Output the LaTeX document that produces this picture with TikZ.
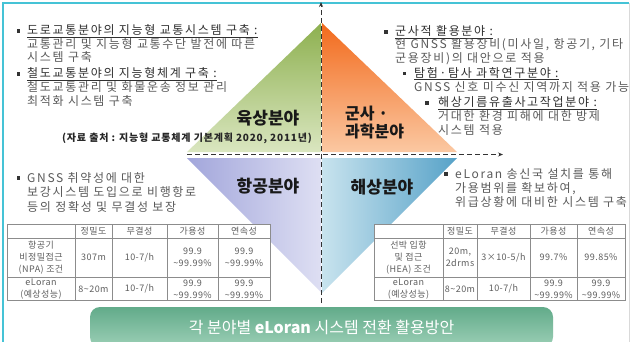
\documentclass[tikz,border=0pt]{standalone}
\usepackage{fontspec}
\setmainfont{Noto Sans CJK KR}
\newfontfamily\spacedf[LetterSpace=14]{Noto Sans CJK KR}
\newfontfamily\srcf[LetterSpace=8]{Noto Sans CJK KR}
\newfontfamily\tablef[LetterSpace=5]{Noto Sans CJK KR}
\usetikzlibrary{arrows.meta}
\definecolor{frameC}{HTML}{45C3D6}
\definecolor{grTop}{HTML}{8DB04F}
\definecolor{grBot}{HTML}{DAE6C0}
\definecolor{orTop}{HTML}{F26A1C}
\definecolor{orBot}{HTML}{FBC8A2}
\definecolor{puL}{HTML}{A2A6DB}
\definecolor{puR}{HTML}{DEDFF3}
\definecolor{blL}{HTML}{C8E3EE}
\definecolor{blR}{HTML}{57A2C8}
\definecolor{bnTop}{HTML}{62AB8A}
\definecolor{bnBot}{HTML}{9CCFB6}
\definecolor{txtC}{HTML}{5A5A5A}
\definecolor{headC}{HTML}{303030}
\definecolor{tblC}{HTML}{5E5E5E}
\definecolor{tline}{HTML}{8C8C8C}
\begin{document}
\begin{tikzpicture}[x=1pt,y=-1pt,
  body/.style={anchor=base west, inner sep=0pt, text=txtC, font=\spacedf\fontsize{12}{14}\selectfont},
  headl/.style={body, text=headC},
  bul/.style={rectangle, fill=black!80, minimum size=3.6pt, inner sep=0pt},
  big/.style={inner sep=0pt, text=black!90, font=\bfseries\fontsize{17}{19}\selectfont},
  tcell/.style={inner sep=0pt, text=tblC, align=center, font=\tablef\fontsize{9}{12}\selectfont},
  axis/.style={draw=black!80, line width=0.8pt, dash pattern=on 5pt off 3pt, -{Stealth[length=5pt,width=4pt]}},
  tgrid/.style={draw=tline, line width=0.6pt},
  banner/.style={rounded corners=10pt, top color=bnTop, bottom color=bnBot, draw=none,
     minimum width=463pt, minimum height=40pt, text=white, font=\fontsize{16}{18}\selectfont}
]
\useasboundingbox (0,0) rectangle (631,341);
\fill[white] (0,0) rectangle (631,341);
% frame
\draw[frameC, line width=1.3pt] (3,345) -- (3,3) -- (629,3);
\draw[black!15, line width=0.6pt] (629,3) -- (629,345);

% triangles
\shade[top color=grTop, bottom color=grBot] (321,23) -- (187,152) -- (321,152) -- cycle;
\shade[top color=orTop, bottom color=orBot] (322,23) -- (322,152) -- (457,152) -- cycle;
\shade[left color=puL, right color=puR] (187,158) -- (321,158) -- (321,292) -- cycle;
\shade[left color=blL, right color=blR] (322,158) -- (457,158) -- (322,293) -- cycle;

% axes
\coordinate (vbot) at (321,303);
\coordinate (vtop) at (321,2);
\coordinate (hl) at (187,154.5);
\coordinate (hr) at (503,154.5);
\draw[axis] (vbot) -- (vtop);
\draw[axis] (hl) -- (hr);

% big labels
\node[big] (yuk) at (268,118) {육상분야};
\node[big, anchor=west, font=\bfseries\fontsize{16}{18}\selectfont] (gun) at (345,114) {군사 ·};
\node[big, anchor=west, font=\bfseries\fontsize{16}{18}\selectfont] (gwa) at (345,131) {과학분야};
\node[big] (hang) at (268,186) {항공분야};
\node[big] (hae) at (382,187) {해상분야};
\node[inner sep=0pt, anchor=base east, text=black!85, font=\srcf\bfseries\fontsize{10}{12}\selectfont] (src) at (312,141.5) {(자료 출처 : 지능형 교통체계 기본계획 2020, 2011년)};

% top-left text
\node[bul] (b1) at (18.5,31) {};
\node[headl] (t1) at (27,34.5) {\underline{도로교통분야의 지능형 교통시스템 구축 :}};
\node[body] (t2) at (27,48) {교통관리 및 지능형 교통수단 발전에 따른};
\node[body] (t3) at (27,61.5) {시스템 구축};
\node[bul] (b2) at (18.5,74) {};
\node[headl] (t4) at (27,77.5) {\underline{철도교통분야의 지능형체계 구축 :}};
\node[body] (t5) at (27,91.5) {철도교통관리 및 화물운송 정보 관리};
\node[body] (t6) at (27,105.5) {최적화 시스템 구축};

% top-right text
\node[bul] (b3) at (386,32) {};
\node[headl] (r1) at (395,35.5) {\underline{군사적 활용분야 :}};
\node[body] (r2) at (395,48.5) {현 GNSS 활용장비(미사일, 항공기, 기타};
\node[body] (r3) at (395,62.5) {군용장비)의 대안으로 적용};
\node[bul] (b4) at (404.5,73.5) {};
\node[headl] (r4) at (414,77) {\underline{탐험·탐사 과학연구분야 :}};
\node[body] (r5) at (414,91.5) {GNSS 신호 미수신 지역까지 적용 가능};
\node[bul] (b5) at (427,103) {};
\node[headl] (r6) at (438,106.5) {\underline{해상기름유출사고작업분야 :}};
\node[body] (r7) at (438,120.5) {거대한 환경 피해에 대한 방제};
\node[body] (r8) at (438,134.5) {시스템 적용};

% middle-left text
\node[bul] (b6) at (18.5,178) {};
\node[body] (m1) at (27,182) {GNSS 취약성에 대한};
\node[body] (m2) at (27,196.5) {보강시스템 도입으로 비행항로};
\node[body] (m3) at (27,211.5) {등의 정확성 및 무결성 보장};

% middle-right text
\node[bul] (b7) at (446,174) {};
\node[body] (n1) at (455,178.5) {eLoran 송신국 설치를 통해};
\node[body] (n2) at (455,192.5) {가용범위를 확보하여,};
\node[body] (n3) at (455,206.5) {위급상황에 대비한 시스템 구축};

% left table
\fill[white] (7,224) rectangle (270,300);
\draw[tgrid] (7,224) rectangle (270,300);
\foreach \x in {75,112,167,218} \draw[tgrid] (\x,224) -- (\x,300);
\foreach \y in {238,277} \draw[tgrid] (7,\y) -- (270,\y);
\node[tcell] (la2) at (93.5,231) {정밀도};
\node[tcell] (la3) at (139.5,231) {무결성};
\node[tcell] (la4) at (192.5,231) {가용성};
\node[tcell] (la5) at (244,231) {연속성};
\node[tcell] (lb1) at (41,257.5) {항공기\\비정밀접근\\(NPA) 조건};
\node[tcell] (lb2) at (93.5,257.5) {307m};
\node[tcell] (lb3) at (139.5,257.5) {10-7/h};
\node[tcell] (lb4) at (192.5,257.5) {99.9\\\textasciitilde99.99\%};
\node[tcell] (lb5) at (244,257.5) {99.9\\\textasciitilde99.99\%};
\node[tcell] (lc1) at (41,289) {eLoran\\(예상성능)};
\node[tcell] (lc2) at (93.5,289) {8\textasciitilde20m};
\node[tcell] (lc3) at (139.5,289) {10-7/h};
\node[tcell] (lc4) at (192.5,289) {99.9\\\textasciitilde99.99\%};
\node[tcell] (lc5) at (244,289) {99.9\\\textasciitilde99.99\%};

% right table
\fill[white] (374,224) rectangle (625,300);
\draw[tgrid] (374,224) rectangle (625,300);
\foreach \x in {443,477,530,577} \draw[tgrid] (\x,224) -- (\x,300);
\foreach \y in {238,277} \draw[tgrid] (374,\y) -- (625,\y);
\node[tcell] (ra2) at (460,231) {정밀도};
\node[tcell] (ra3) at (503.5,231) {무결성};
\node[tcell] (ra4) at (553.5,231) {가용성};
\node[tcell] (ra5) at (601,231) {연속성};
\node[tcell] (rb1) at (408.5,257.5) {선박 입항\\및 접근\\(HEA) 조건};
\node[tcell] (rb2) at (460,257.5) {20m,\\2drms};
\node[tcell] (rb3) at (503.5,257.5) {3×10-5/h};
\node[tcell] (rb4) at (553.5,257.5) {99.7\%};
\node[tcell] (rb5) at (601,257.5) {99.85\%};
\node[tcell] (rc1) at (408.5,289) {eLoran\\(예상성능)};
\node[tcell] (rc2) at (460,289) {8\textasciitilde20m};
\node[tcell] (rc3) at (503.5,289) {10-7/h};
\node[tcell] (rc4) at (553.5,289) {99.9\\\textasciitilde99.99\%};
\node[tcell] (rc5) at (601,289) {99.9\\\textasciitilde99.99\%};

% banner
\node[banner] (bn) at (321.5,327) {각 분야별 \textbf{eLoran} 시스템 전환 활용방안};
\end{tikzpicture}
\end{document}
